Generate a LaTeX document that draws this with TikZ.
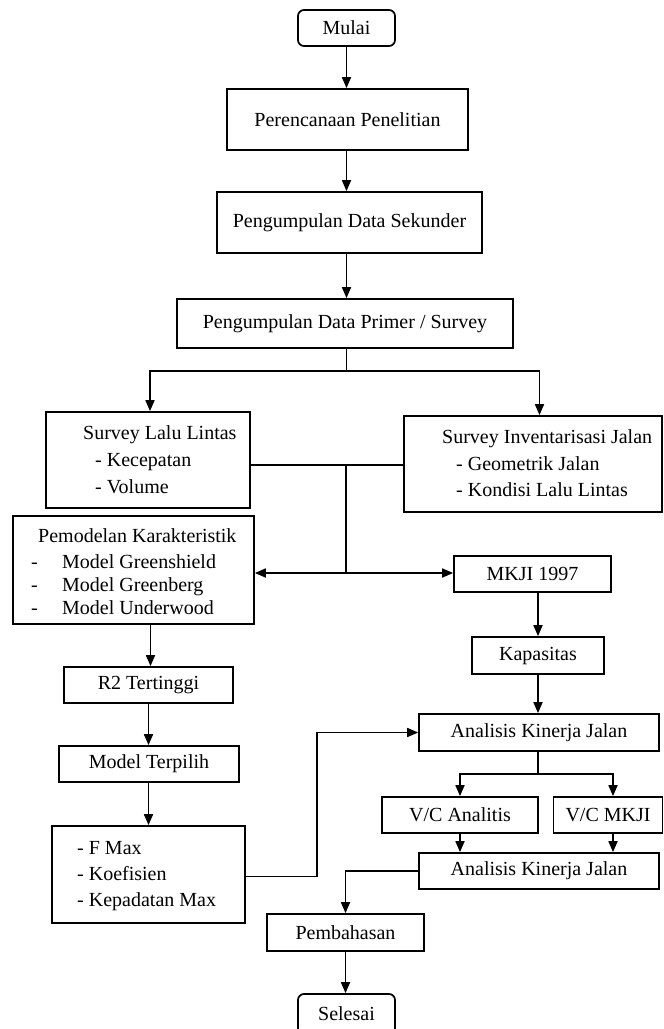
\documentclass[tikz,border=0pt]{standalone}
\usepackage{fontspec}
\setmainfont{Liberation Serif}
\usetikzlibrary{arrows.meta}
\tikzset{
  box/.style={draw, line width=1.7pt, inner sep=0pt, font=\fontsize{20}{24}\selectfont},
  roundbox/.style={box, rounded corners=6pt},
  txt/.style={anchor=base west, inner sep=0pt, font=\fontsize{20}{24}\selectfont},
  line/.style={line width=1.7pt},
  arr/.style={line width=1.7pt, -{Triangle[length=11pt,width=9pt]}}
}
\begin{document}
\begin{tikzpicture}[x=1pt,y=-1pt]
\useasboundingbox (0,0) rectangle (664,1029);
% boxes
\node[roundbox, minimum width=97pt, minimum height=36pt] (mulai) at (346.5,28) {Mulai};
\node[box, minimum width=241pt, minimum height=61pt] (per) at (347.5,119.5) {Perencanaan Penelitian};
\node[box, minimum width=265pt, minimum height=61pt] (sek) at (349.5,222.5) {Pengumpulan Data Sekunder};
\node[box, minimum width=336pt, minimum height=49pt] (pri) at (345,323.5) {Pengumpulan Data Primer / Survey};
\node[box, minimum width=204pt, minimum height=96pt] (sll) at (148,460) {};
\node[box, minimum width=258pt, minimum height=96pt] (sij) at (533,464) {};
\node[box, minimum width=241pt, minimum height=108pt] (pem) at (133.5,570) {};
\node[box, minimum width=157pt, minimum height=36pt] (mkji) at (532.5,574) {MKJI 1997};
\node[box, minimum width=132pt, minimum height=37pt] (kap) at (538,655.5) {Kapasitas};
\node[box, minimum width=169pt, minimum height=36pt] (r2) at (148.5,685) {R2 Tertinggi};
\node[box, minimum width=180pt, minimum height=36pt] (mt) at (149,764) {Model Terpilih};
\node[box, minimum width=193pt, minimum height=97pt] (fmax) at (148.5,874.5) {};
\node[box, minimum width=240pt, minimum height=37pt] (ak1) at (539,732.5) {Analisis Kinerja Jalan};
\node[box, minimum width=156pt, minimum height=36pt] (vca) at (460,815) {V/C Analitis};
\node[box, minimum width=109pt, minimum height=36pt] (vcm) at (608,815) {V/C MKJI};
\node[box, minimum width=240pt, minimum height=36pt] (ak2) at (539,871) {Analisis Kinerja Jalan};
\node[box, minimum width=157pt, minimum height=37pt] (pmb) at (345.5,932.5) {Pembahasan};
\node[roundbox, minimum width=97pt, minimum height=40pt] (sel) at (346.5,1014) {Selesai};
% multi-line texts
\node[txt] (sllt) at (83,439) {Survey Lalu Lintas};
\node[txt] (sll1) at (95,466) {- Kecepatan};
\node[txt] (sll2) at (95,493) {- Volume};
\node[txt] (sijt) at (442,443) {Survey Inventarisasi Jalan};
\node[txt] (sij1) at (456,470) {- Geometrik Jalan};
\node[txt] (sij2) at (456,496) {- Kondisi Lalu Lintas};
\node[txt] (pemt) at (38,542) {Pemodelan Karakteristik};
\node[txt] (pemd1) at (31,568) {-};
\node[txt] (pem1) at (62,568) {Model Greenshield};
\node[txt] (pemd2) at (31,591) {-};
\node[txt] (pem2) at (62,591) {Model Greenberg};
\node[txt] (pemd3) at (31,614) {-};
\node[txt] (pem3) at (62,614) {Model Underwood};
\node[txt] (f1) at (77,854) {- F Max};
\node[txt] (f2) at (77,880) {- Koefisien};
\node[txt] (f3) at (77,906) {- Kepadatan Max};
% connectors
\coordinate (j1) at (346,465);
\coordinate (j2) at (346,573);
\coordinate (c1) at (317,0);
\draw[arr] (mulai.south) -- (mulai.south |- per.north);
\draw[arr] (mulai.south |- per.south) -- (mulai.south |- sek.north);
\draw[arr] (mulai.south |- sek.south) -- (mulai.south |- pri.north);
\draw[line] (mulai.south |- pri.south) -- ++(0,22) coordinate (b1);
\draw[arr] (b1) -| ([xshift=2pt]sll.north);
\draw[arr] (b1) -| ([xshift=6.5pt]sij.north);
\draw[line] (sll.east |- j1) -- (sij.west |- j1);
\draw[line] (j1) -- (j2);
\draw[arr] (j2) -- (pem.east |- j2);
\draw[arr] (j2) -- (mkji.west |- j2);
\draw[arr] (kap.north |- mkji.south) -- (kap.north);
\draw[arr] (kap.south) -- (kap.south |- ak1.north);
\draw[line] (kap.south |- ak1.south) -- ++(0,22) coordinate (b2);
\draw[arr] (b2) -| (vca.north);
\draw[arr] (b2) -| ([xshift=5pt]vcm.north);
\draw[arr] (vca.south) -- (vca.south |- ak2.north);
\draw[arr] ([xshift=5pt]vcm.south) -- ([xshift=5pt]vcm.south |- ak2.north);
\draw[arr] ([xshift=2pt]pem.south -| r2.north) -- ([xshift=2pt]r2.north);
\draw[arr] (r2.south) -- (r2.south |- mt.north);
\draw[arr] (r2.south |- mt.south) -- (r2.south |- fmax.north);
\draw[arr] ([yshift=-2pt]fmax.east) -- ([yshift=-2pt]fmax.east -| c1) |- (ak1.west);
\draw[arr] (ak2.west) -| (pmb.north);
\draw[arr] (pmb.south) -- (pmb.south |- sel.north);
\end{tikzpicture}
\end{document}
